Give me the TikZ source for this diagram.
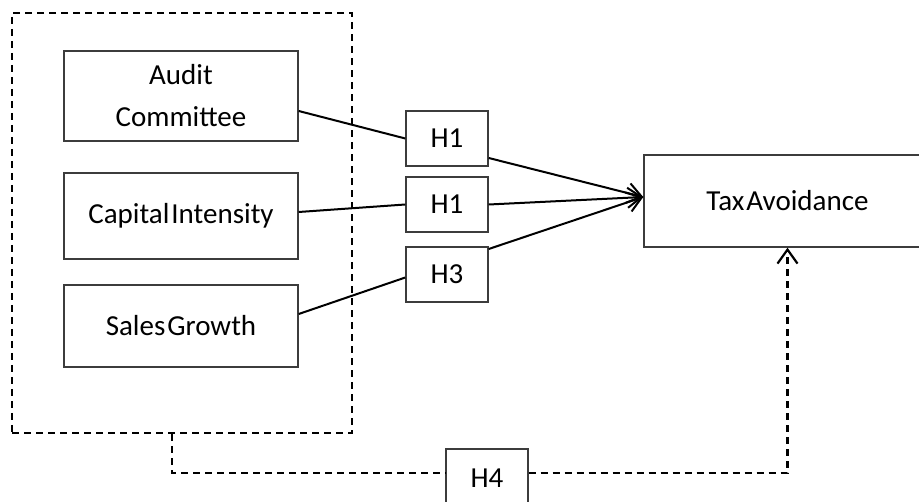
\documentclass[tikz,border=0pt]{standalone}
\usepackage{fontspec}
\setmainfont{Carlito}[WordSpace=0.3]
\usetikzlibrary{arrows.meta}
\definecolor{boxgrey}{HTML}{3C3C3C}
\tikzset{
  varbox/.style={draw=boxgrey, line width=1.4pt, rectangle, align=center, inner sep=0pt,
    font=\fontsize{29}{42}\selectfont},
  hypbox/.style={varbox, minimum width=82pt, minimum height=55pt},
  conn/.style={line width=2pt, black},
  dashline/.style={line width=2.2pt, black, dash pattern=on 7pt off 5pt},
  groupbox/.style={draw=black, line width=2.2pt, dash pattern=on 7pt off 5pt, rectangle,
    minimum width=340pt, minimum height=420pt, inner sep=0pt},
  barb/.style={-{Straight Barb[length=14pt,width=20pt]}}
}
\begin{document}
\begin{tikzpicture}[x=1pt,y=-1pt]
\useasboundingbox (0,0) rectangle (919,502);
\clip (0,0) rectangle (919,502);
\fill[white] (0,0) rectangle (919,502);

\node[groupbox] (grp) at (182,223) {};

\node[varbox, minimum width=234pt, minimum height=90pt] (audit) at (181,96) {\raisebox{-6pt}{Audit}\\\raisebox{-6pt}{Committee}};
\node[varbox, minimum width=234pt, minimum height=86pt] (capital) at (181,216) {Capital Intensity};
\node[varbox, minimum width=234pt, minimum height=82pt] (sales) at (181,326) {Sales Growth};

\node[hypbox] (h1a) at (447,138.5) {H1};
\node[hypbox] (h1b) at (447,204.5) {H1};
\node[hypbox] (h3) at (447,274.5) {H3};

\node[varbox, minimum width=287pt, minimum height=92pt] (tax) at (787.5,201) {Tax Avoidance};

\node[hypbox, minimum height=58pt] (h4) at (487,478) {H4};

\coordinate (target) at ([yshift=4pt]tax.west);

\draw[conn] ([yshift=-15pt]audit.east) -- (h1a.west);
\draw[conn] ([yshift=4pt]capital.east) -- (h1b.west);
\draw[conn] ([yshift=12pt]sales.east) -- ([yshift=-3pt]h3.west);

\draw[conn, barb] ([yshift=-19.5pt]h1a.east) -- (target);
\draw[conn, barb] (h1b.east) -- (target);
\draw[conn, barb] ([yshift=25.5pt]h3.east) -- (target);

\draw[dashline] ([xshift=-10pt]grp.south) |- ([yshift=5pt]h4.west);
\draw[dashline, barb] ([yshift=5pt]h4.east) -| (tax.south);
\end{tikzpicture}
\end{document}
